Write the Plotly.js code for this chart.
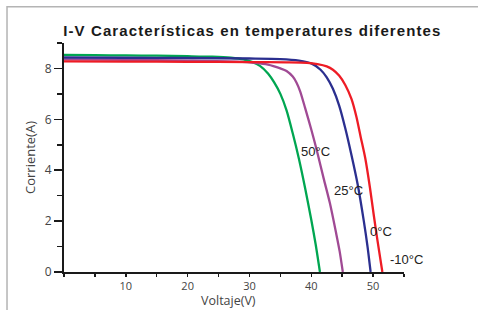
<!DOCTYPE html>
<html>
<head>
<meta charset="utf-8">
<script src="https://cdn.plot.ly/plotly-3.0.1.min.js"></script>
<style>
html,body{margin:0;padding:0;background:#fff;}
#chart{width:478px;height:310px;}
.gtitle{letter-spacing:1.1px;}
</style>
</head>
<body>
<div id="chart"></div>
<script>
// Series: 50°C (green)
var v50 = [0, 5, 10, 15, 20, 24, 27, 29, 30.5, 31.7, 33, 34, 35, 36, 37, 38, 39, 40, 40.7, 41.4];
var i50 = [8.53, 8.52, 8.51, 8.50, 8.48, 8.46, 8.42, 8.36, 8.25, 8.1, 7.8, 7.45, 7.0, 6.35, 5.45, 4.45, 3.3, 2.05, 1.1, 0];
// Series: 25°C (purple)
var v25 = [0, 10, 20, 28, 31, 33, 35, 36, 37, 37.6, 38.2, 39, 40, 41, 42, 43, 44, 44.6, 45.1];
var i25 = [8.36, 8.34, 8.31, 8.27, 8.22, 8.15, 8.0, 7.9, 7.68, 7.45, 7.1, 6.45, 5.6, 4.68, 3.68, 2.72, 1.55, 0.8, 0];
// Series: 0°C (blue)
var v0 = [0, 10, 20, 30, 35, 38, 40, 41.5, 42.5, 43.5, 44.5, 45.5, 46.5, 47.5, 48.5, 49.1, 49.6];
var i0 = [8.43, 8.42, 8.41, 8.39, 8.37, 8.31, 8.2, 7.95, 7.65, 7.2, 6.55, 5.65, 4.6, 3.45, 2.0, 1.0, 0];
// Series: -10°C (red)
var vm10 = [0, 10, 20, 30, 36, 39.3, 41, 42.5, 43.5, 44.5, 45.5, 46.5, 47.3, 48, 48.75, 49.5, 50.1, 50.7, 51.5];
var im10 = [8.28, 8.27, 8.26, 8.25, 8.24, 8.22, 8.17, 8.08, 7.95, 7.72, 7.35, 6.8, 6.1, 5.3, 4.45, 3.3, 2.25, 1.25, 0];

var seriesNames = ['50°C', '25°C', '0°C', '-10°C'];
var seriesColors = ['#00a651', '#a04a94', '#2b2f8f', '#ee1c25'];

// Label positions (data coords)
var labelText = ['50°C', '25°C', '0°C', '-10°C'];
var labelV = [40.65, 46.0, 51.3, 52.4];
var labelI = [4.75, 3.22, 1.6, 0.5];
var labelAnchor = ['center', 'center', 'center', 'left'];

// Axis ticks
var xTickVals = [10, 20, 30, 40, 50];
var xMinorVals = [0, 5, 15, 25, 35, 45, 55];
var yTickVals = [0, 2, 4, 6, 8];
var yMinorVals = [1, 3, 5, 7, 9];

var xTitle = 'Voltaje(V)';
var yTitle = 'Corriente(A)';

var xs = [v50, v25, v0, vm10];
var ys = [i50, i25, i0, im10];

var traces = xs.map(function (x, k) {
  return {
    x: x, y: ys[k], name: seriesNames[k], type: 'scatter', mode: 'lines',
    line: {color: seriesColors[k], width: 2.3, shape: 'spline', smoothing: 0.7},
    hoverinfo: 'skip', cliponaxis: false
  };
});

var annotations = labelText.map(function (t, k) {
  return {
    x: labelV[k], y: labelI[k], xref: 'x', yref: 'y', text: t, showarrow: false,
    xanchor: labelAnchor[k], yanchor: 'middle',
    font: {family: 'Liberation Sans, Arial, sans-serif', size: 13, color: '#222'}
  };
});
// x-axis title placed as a paper-anchored label just under the tick labels
annotations.push({
  x: 0.485, y: -0.1667, xref: 'paper', yref: 'paper', text: xTitle, showarrow: false,
  xanchor: 'center', yanchor: 'bottom', borderpad: 0,
  font: {family: 'Open Sans, sans-serif', size: 12.5, color: '#444'}
});

var tickFont = {family: 'Open Sans, sans-serif', size: 12, color: '#444'};

var layout = {
  width: 478, height: 310,
  margin: {l: 64, r: 74, t: 43, b: 38, pad: 0},
  paper_bgcolor: '#fff', plot_bgcolor: '#fff',
  showlegend: false,
  title: {
    text: 'I-V Características en temperatures diferentes',
    font: {family: 'Liberation Sans, Arial, sans-serif', size: 15, color: '#1a1a1a', weight: 'bold'},
    xref: 'container', x: 0.528, xanchor: 'center',
    yref: 'container', y: 0.9, yanchor: 'middle'
  },
  xaxis: {
    range: [0, 55], showgrid: false, zeroline: false,
    showline: true, linecolor: '#1a1a1a', linewidth: 2,
    ticks: 'outside', ticklen: 3, tickwidth: 1.5, tickcolor: '#1a1a1a',
    tickvals: xTickVals, ticktext: xTickVals.map(String),
    tickfont: {family: 'Open Sans, sans-serif', size: 11, color: '#444'},
    minor: {tickvals: xMinorVals, ticks: 'outside', ticklen: 3, tickwidth: 1.5, tickcolor: '#1a1a1a', showgrid: false},
    fixedrange: true
  },
  yaxis: {
    range: [0, 9], showgrid: false, zeroline: false,
    showline: true, linecolor: '#1a1a1a', linewidth: 2,
    ticks: 'outside', ticklen: 8, tickwidth: 1.5, tickcolor: '#1a1a1a',
    tickvals: yTickVals, ticktext: yTickVals.map(String),
    tickfont: tickFont,
    minor: {tickvals: yMinorVals, ticks: 'outside', ticklen: 5, tickwidth: 1.5, tickcolor: '#1a1a1a', showgrid: false},
    title: {text: yTitle, font: {family: 'Open Sans, sans-serif', size: 13, color: '#444'}, standoff: 6},
    fixedrange: true
  },
  shapes: [{
    type: 'path', xref: 'paper', yref: 'paper',
    path: 'M -0.1676 -0.1667 L -0.1676 1.1579 L 1.2176 1.1579',
    line: {color: '#b4b4b4', width: 1.5}
  }],
  annotations: annotations
};

Plotly.newPlot('chart', traces, layout, {staticPlot: true, displayModeBar: false});
</script>
</body>
</html>
